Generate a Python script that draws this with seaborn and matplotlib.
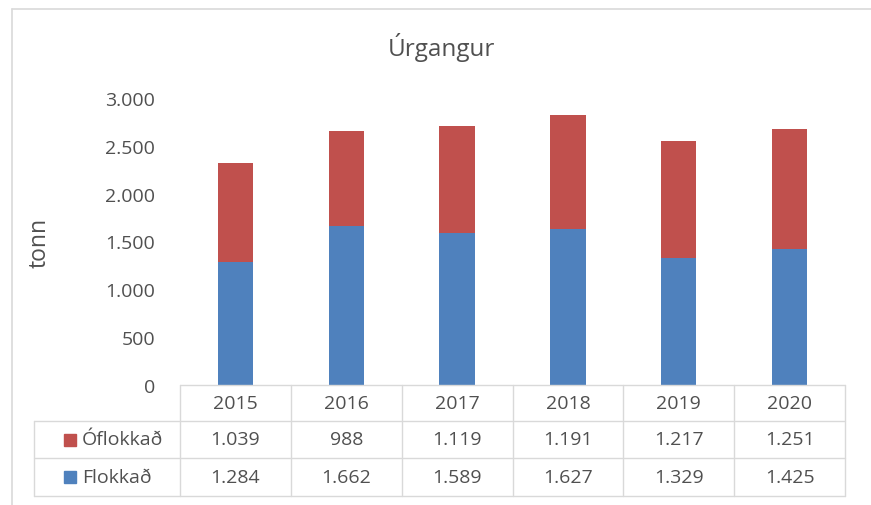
import numpy as np
import pandas as pd
import matplotlib.pyplot as plt
from matplotlib.lines import Line2D
from matplotlib.patches import Rectangle
from matplotlib.ticker import FuncFormatter
import seaborn as sns

years = ["2015", "2016", "2017", "2018", "2019", "2020"]
oflokkad = [1039, 988, 1119, 1191, 1217, 1251]
flokkad = [1284, 1662, 1589, 1627, 1329, 1425]
series_names = ["Óflokkað", "Flokkað"]
title = "Úrgangur"
ylabel = "tonn"

BLUE = "#4F81BD"
RED = "#C0504D"
TXT = "#505050"
GRID = "#D9D9D9"

sns.set_theme(style="white")
plt.rcParams['font.family'] = ['Open Sans', 'DejaVu Sans']

W, H = 871, 506
fig = plt.figure(figsize=(W / 100, H / 100), dpi=100)

def fx(px):
    return px / W

def fy(py):
    return 1 - py / H

x0, x1, ytop, ybot = 180, 845, 99, 386
ax = fig.add_axes([fx(x0), fy(ybot), fx(x1) - fx(x0), fy(ytop) - fy(ybot)])

df = pd.DataFrame({"year": years, "Flokkað": flokkad, "Óflokkað": oflokkad})
df["total"] = df["Flokkað"] + df["Óflokkað"]

sns.barplot(data=df, x="year", y="total", color=RED, width=0.32,
            saturation=1, ax=ax, linewidth=0)
sns.barplot(data=df, x="year", y="Flokkað", color=BLUE, width=0.32,
            saturation=1, ax=ax, linewidth=0)

ax.set_ylim(0, 3000)
ax.set_xlim(-0.5, len(years) - 0.5)
ax.set_yticks(np.arange(0, 3001, 500))
ax.yaxis.set_major_formatter(FuncFormatter(lambda v, p: f"{int(v):,}".replace(",", ".")))
ax.tick_params(axis="y", length=0, labelsize=14, labelcolor=TXT, pad=18)
ax.set_xticks([])
ax.set_xlabel("")
ax.set_ylabel("")
for s in ax.spines.values():
    s.set_visible(False)

fig.text(fx(40), fy(243), ylabel, rotation=90, ha="center", va="center",
         fontsize=16.5, color=TXT)
fig.text(fx(441), fy(48), title, ha="center", va="center",
         fontsize=17.5, color=TXT)

# outer chart frame
fig.add_artist(Line2D([fx(12), fx(12)], [fy(10), 0], color=GRID, lw=1.2))
fig.add_artist(Line2D([fx(12), 1], [fy(10), fy(10)], color=GRID, lw=1.2))

# data table
rows = [386, 422, 459, 497]
cols = np.linspace(x0, x1, len(years) + 1)
lw = 1.0
fig.add_artist(Line2D([fx(x0), fx(x1)], [fy(rows[0])] * 2, color=GRID, lw=lw))
for r in rows[1:]:
    fig.add_artist(Line2D([fx(34), fx(x1)], [fy(r)] * 2, color=GRID, lw=lw))
for c in cols:
    fig.add_artist(Line2D([fx(c)] * 2, [fy(rows[0]), fy(rows[-1])], color=GRID, lw=lw))
fig.add_artist(Line2D([fx(34)] * 2, [fy(rows[1]), fy(rows[-1])], color=GRID, lw=lw))

fmt = lambda v: f"{v:,}".replace(",", ".")
for i, yr in enumerate(years):
    cx = 0.5 * (cols[i] + cols[i + 1])
    fig.text(fx(cx), fy(0.5 * (rows[0] + rows[1])), yr, ha="center", va="center",
             fontsize=14, color=TXT)
    fig.text(fx(cx), fy(0.5 * (rows[1] + rows[2])), fmt(oflokkad[i]), ha="center",
             va="center", fontsize=14, color=TXT)
    fig.text(fx(cx), fy(0.5 * (rows[2] + rows[3])), fmt(flokkad[i]), ha="center",
             va="center", fontsize=14, color=TXT)

for j, (name, col) in enumerate(zip(series_names, [RED, BLUE])):
    cy = 0.5 * (rows[j + 1] + rows[j + 2])
    fig.add_artist(Rectangle((fx(64), fy(cy + 6)), fx(12), 12 / H, color=col,
                             transform=fig.transFigure))
    fig.text(fx(82), fy(cy), name, ha="left", va="center", fontsize=14, color=TXT)

fig.savefig("out.png", dpi=100)
